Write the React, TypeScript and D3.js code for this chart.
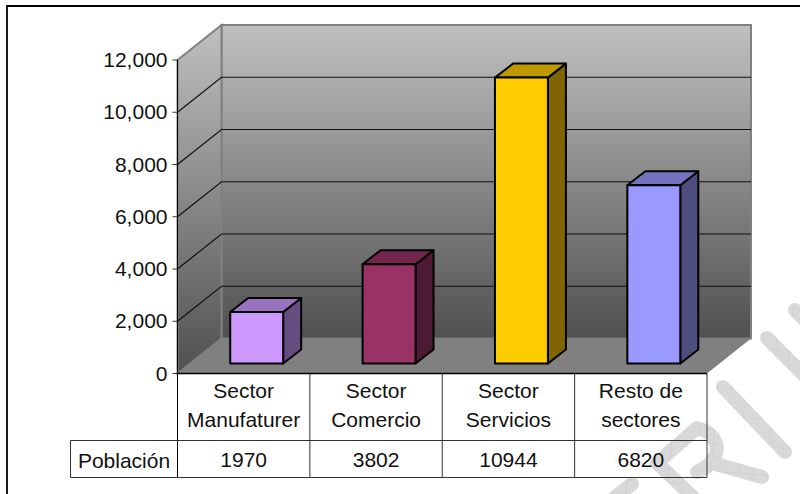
import React from 'react'
import * as d3 from 'd3'

const categories = [['Sector', 'Manufaturer'], ['Sector', 'Comercio'], ['Sector', 'Servicios'], ['Resto de', 'sectores']]
const values = [1970, 3802, 10944, 6820]
const colors = ['#cc99ff', '#993366', '#ffcc00', '#9999ff']
const yTicks = [0, 2000, 4000, 6000, 8000, 10000, 12000]
const rowLabel = 'Población'

// watermark strokes, lower right of the page
const watermark = [
  'M767,338 L805,376',
  'M795,310 L805,320',
  'M723,387 L785,452',
  'M693,497 L657,463 L697,428 Q714,432 717,447 Q716,464 697,472',
  'M712,463 L762,477',
  'M632,484 L612,500'
]

const shade = (c: string, k: number) => {
  const r = d3.rgb(c)
  return d3.rgb(r.r * k, r.g * k, r.b * k).formatHex()
}

const poly = (pts: [number, number][]) => d3.line()(pts) + 'Z'

export default function App () {
  const x0 = 177.5
  const x1 = 707
  const yBase = 373.5
  const yTop = 60
  const dx = 44
  const dy = 35
  const barDx = 18
  const barDy = 14
  const barOffX = 13
  const barOffY = 10
  const font = '"Liberation Sans", Arial, sans-serif'

  const xScale = d3.scaleBand<number>()
    .domain(values.map((_, i) => i))
    .range([x0, x1])
  const barW = xScale.bandwidth() * 0.4
  const yScale = d3.scaleLinear().domain([0, 12000]).range([yBase, yTop])
  const fmt = d3.format(',')

  return <svg width={800} height={494} style={{ position: 'absolute', left: 0, top: 0, background: '#fff' }} fontFamily={font}>
    <defs>
      <linearGradient id='wall' x1='0' y1='0' x2='0' y2='1'>
        <stop offset='0' stopColor='#c0c0c0' />
        <stop offset='1' stopColor='#505050' />
      </linearGradient>
      <pattern id='hatch' width='14' height='14' patternUnits='userSpaceOnUse' patternTransform='rotate(4)'>
        <rect width='14' height='14' fill='#d9d9d9' />
        <path d='M0,0 H14 M0,0 V14' stroke='#cbcbcb' strokeWidth='1' />
      </pattern>
    </defs>

    <g fill='none' stroke='url(#hatch)' strokeWidth='14' strokeLinecap='round' strokeLinejoin='round'>
      {watermark.map((d, i) => <path key={i} d={d} />)}
    </g>

    <path d='M7,494 V6 H800' fill='none' stroke='#000' strokeWidth='1.8' />

    <path d={poly([[x0 + dx, yTop - dy], [x1 + dx, yTop - dy], [x1 + dx, yBase - dy], [x0 + dx, yBase - dy]])} fill='url(#wall)' stroke='#808080' strokeWidth='2' />
    <path d={poly([[x0, yTop], [x0 + dx, yTop - dy], [x0 + dx, yBase - dy], [x0, yBase]])} fill='url(#wall)' stroke='#808080' strokeWidth='2' />
    <path d={poly([[x0, yBase], [x0 + dx, yBase - dy], [x1 + dx, yBase - dy], [x1, yBase]])} fill='#808080' />

    {yTicks.slice(1, -1).map(v => <path key={v} d={`M${x0},${yScale(v)} L${x0 + dx},${yScale(v) - dy} H${x1 + dx}`} fill='none' stroke='#111' strokeWidth='1.2' />)}

    {values.map((v, i) => {
      const left = xScale(i)! + (xScale.bandwidth() - barW) / 2 + barOffX
      const right = left + barW
      const bottom = yBase - barOffY
      const top = bottom - (yBase - yScale(v))
      const stroke = { stroke: '#000', strokeWidth: 2, strokeLinejoin: 'round' as const }
      return <g key={i}>
        <path d={poly([[right, top], [right + barDx, top - barDy], [right + barDx, bottom - barDy], [right, bottom]])} fill={shade(colors[i], 0.5)} {...stroke} />
        <path d={poly([[left, top], [left + barDx, top - barDy], [right + barDx, top - barDy], [right, top]])} fill={shade(colors[i], 0.75)} {...stroke} />
        <rect x={left} y={top} width={barW} height={bottom - top} fill={colors[i]} {...stroke} />
      </g>
    })}

    <line x1={x0} x2={x0} y1={yTop} y2={477} stroke='#000' />
    <line x1={x0} x2={x1} y1={yBase} y2={yBase} stroke='#000' strokeWidth='1.5' />
    {yTicks.map(v => <g key={v} transform={`translate(${x0},${yScale(v)})`}>
      <line x1={-5} x2={0} stroke='#333' />
      <text x={-10} y={7} textAnchor='end' fontSize='21' fill='#111'>{fmt(v)}</text>
    </g>)}

    <g stroke='#333' fill='none'>
      <path d={`M70.5,440.5 H${x1} M70.5,477.5 H${x1} M70.5,440.5 V477.5`} />
      {values.map((_, i) => <line key={i} x1={xScale(i)! + xScale.bandwidth()} x2={xScale(i)! + xScale.bandwidth()} y1={yBase} y2={477.5} />)}
    </g>
    <text x={124} y={468} textAnchor='middle' fontSize='21' fill='#111'>{rowLabel}</text>
    {values.map((v, i) => {
      const cx = xScale(i)! + xScale.bandwidth() / 2
      return <g key={i} textAnchor='middle' fontSize='21' fill='#111'>
        <text x={cx} y={398}>{categories[i][0]}</text>
        <text x={cx} y={427}>{categories[i][1]}</text>
        <text x={cx} y={467}>{v}</text>
      </g>
    })}
  </svg>
}
